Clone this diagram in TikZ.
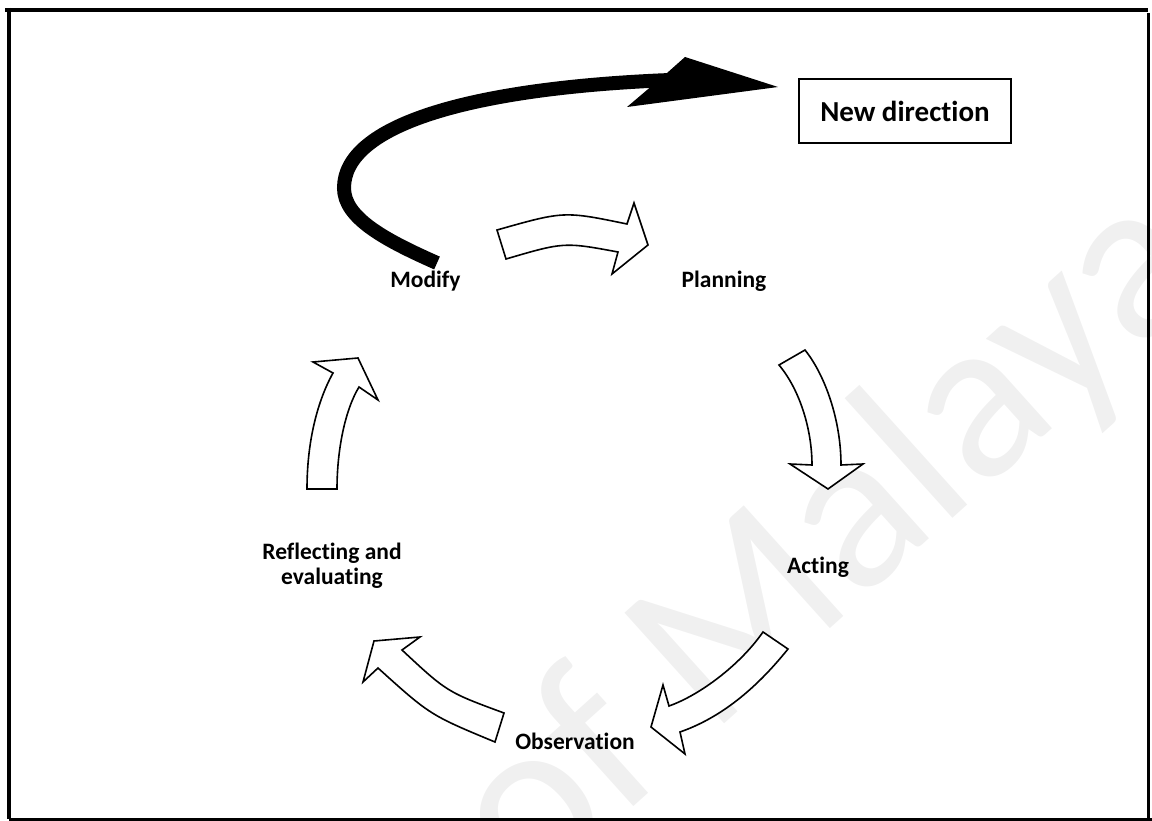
\documentclass[tikz,border=0pt]{standalone}
\usepackage{fontspec}
\setmainfont{Carlito}[Ligatures={NoCommon,NoRequired,NoContextual}]
\begin{document}
\begin{tikzpicture}[x=1pt,y=-1pt,
  blockarrow/.style={draw=black, line width=1.6pt, fill=white, line join=miter},
  lbl/.style={font=\bfseries\fontsize{23.5}{25}\selectfont, anchor=base, inner sep=0pt, align=center},
  framel/.style={line width=4pt, black}]
\useasboundingbox (0,0) rectangle (1152,821);
% faint watermark
\begin{scope}
\clip (0,0) rectangle (1152,821);
\node[text=black!6, font=\fontsize{232}{232}\selectfont, rotate=42, anchor=base west, inner sep=0pt] (wm) at (528,901) {of Malaya};
\end{scope}
% frame
\draw[framel] (5,10) -- (1148,10);
\draw[framel] (9,8) -- (9,819);
\draw[line width=3pt] (1148.5,13) -- (1148.5,820);
\draw[line width=3pt] (9,819.5) -- (1152,819.5);
% labels
\node[lbl] (modify) at (425.5,288) {Modify};
\node[lbl] (planning) at (724,288) {Planning};
\node[lbl] (acting) at (818,573) {Acting};
\node[lbl] (refl1) at (332,559) {Reflecting and};
\node[lbl] (refl2) at (332,584) {evaluating};
\node[lbl] (obs) at (575,749) {Observation};
\node[draw, line width=1.3pt, minimum width=212pt, minimum height=64pt, inner sep=0pt,
      font=\bfseries\fontsize{29}{30}\selectfont] (newdir) at (905,111) {New direction};
% block arrows
\draw[blockarrow] (497,230) .. controls (564,211) .. (627,224) -- (634,203) -- (648,245) -- (612,274) -- (618,252) .. controls (564,242) .. (506,259) -- cycle;
\draw[blockarrow] (779,365) -- (805,350) .. controls (825,375) and (841,420) .. (841,465) -- (863,464) -- (828,489) -- (790,464) -- (812,465) .. controls (812,430) and (800,390) .. (779,365) -- cycle;
\draw[blockarrow] (763,632) -- (788,649) .. controls (755,690) and (720,718) .. (680,732) -- (685,754) -- (651,727) -- (663,685) -- (669,706) .. controls (700,695) and (740,665) .. (763,632) -- cycle;
\draw[blockarrow] (495,742) -- (504,713) .. controls (447,692) .. (402,650) -- (420,637) -- (374,641) -- (363,682) -- (378,668) .. controls (430,715) .. (495,742) -- cycle;
\draw[blockarrow] (307,489) -- (337,489) .. controls (337,450) and (345,410) .. (359,387) -- (378,400) -- (358,358) -- (313,362) -- (333,373) .. controls (318,400) and (307,440) .. (307,489) -- cycle;
% black new-direction arrow
\coordinate (bt) at (437,263);
\coordinate (bh) at (670,80);
\draw[line width=14pt, black] (bt) .. controls (385,240) and (344,218) .. (344,188) .. controls (344,125) and (470,88) .. (bh);
\fill[black] (667,73) -- (685,57) -- (778,87) -- (627,107) -- (647,90) -- cycle;
\end{tikzpicture}
\end{document}
